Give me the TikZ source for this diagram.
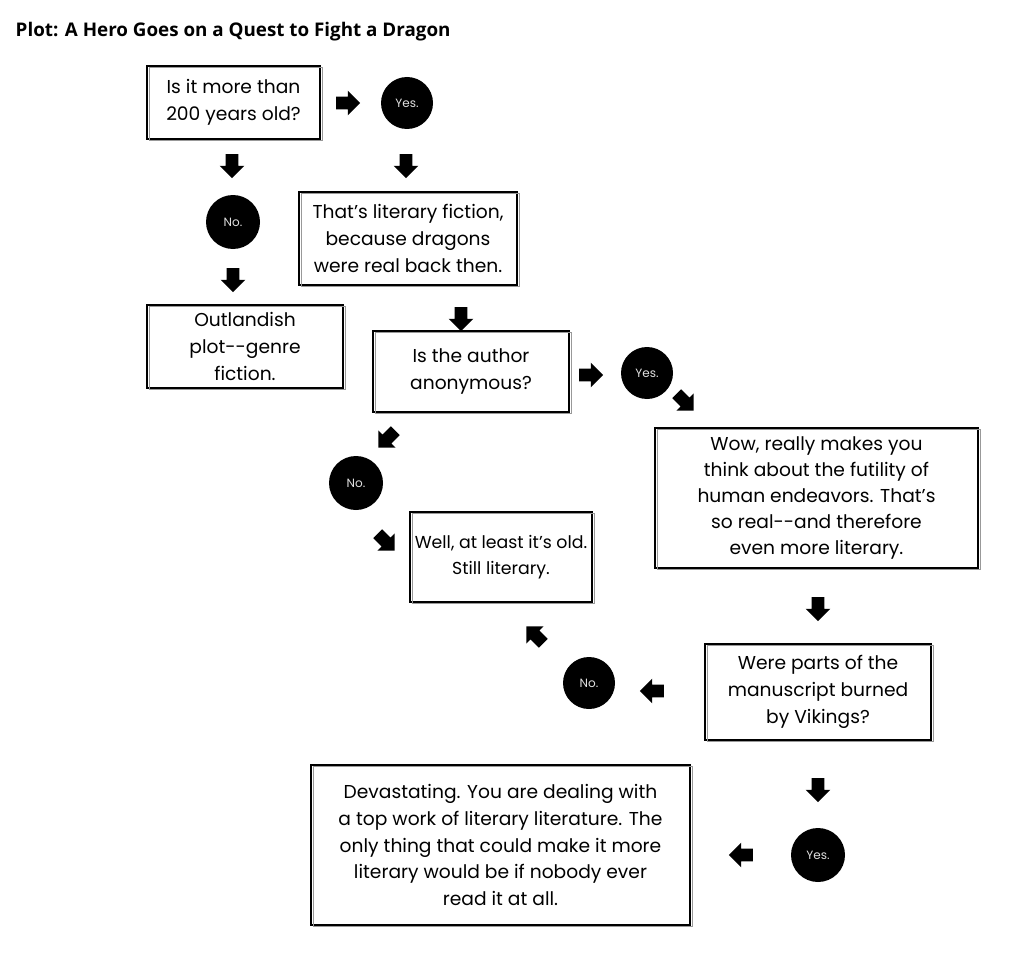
\documentclass[tikz,border=0pt]{standalone}
\usepackage{fontspec}
\setmainfont{Poppins}
\newfontfamily\titlefont{Open Sans}
\usetikzlibrary{shapes.arrows}
\begin{document}
\begin{tikzpicture}[x=0.75pt,y=-0.75pt,
  sbox/.style={draw=black, line width=1.3pt, align=center, inner sep=0pt,
    font=\fontsize{14}{20}\selectfont,
    postaction={draw=black!40, line width=0.5pt, transform canvas={xshift=1.4pt,yshift=-1.2pt}}},
  dot/.style={circle, fill=black, text=black!12, inner sep=0pt, font=\fontsize{9}{10}\selectfont},
  barrow/.style={single arrow, fill=black, draw=none, inner xsep=0pt, inner ysep=4.5pt,
    minimum height=18pt, single arrow head extend=4.5pt, single arrow head indent=0pt, rotate=#1},
]
\fill[white] (0,0) rectangle (1024,970);
\useasboundingbox (0,0) rectangle (1024,970);

\node[anchor=west, font=\titlefont\bfseries\fontsize{14.1}{17}\selectfont] (title) at (11,32)
  {Plot: A Hero Goes on a Quest to Fight a Dragon};

% boxes
\node[sbox, minimum width=173*0.75pt, minimum height=73*0.75pt] (q1) at (233.5,102.5)
  {Is it more than\\200 years old?};
\node[sbox, minimum width=218*0.75pt, minimum height=93*0.75pt] (lit) at (408,238.5)
  {That’s literary fiction,\\because dragons\\were real back then.};
\node[sbox, minimum width=196*0.75pt, minimum height=83*0.75pt] (genre) at (245,346.5)
  {Outlandish\\plot-{}-genre\\fiction.};
\node[sbox, minimum width=196*0.75pt, minimum height=81*0.75pt] (q2) at (471,371.5)
  {Is the author\\anonymous?};
\node[sbox, font=\fontsize{14}{19.5}\selectfont, minimum width=323*0.75pt, minimum height=140*0.75pt] (wow) at (816.5,498)
  {Wow, really makes you\\think about the futility of\\human endeavors. That’s\\so real-{}-and therefore\\even more literary.};
\node[sbox, font=\fontsize{13}{20}\selectfont, minimum width=182*0.75pt, minimum height=90*0.75pt] (old) at (501,557)
  {Well, at least it’s old.\\Still literary.};
\node[sbox, minimum width=226*0.75pt, minimum height=96*0.75pt] (q3) at (818,692)
  {Were parts of the\\manuscript burned\\by Vikings?};
\node[sbox, minimum width=379*0.75pt, minimum height=160*0.75pt] (dev) at (500.5,845)
  {Devastating. You are dealing with\\a top work of literary literature. The\\only thing that could make it more\\literary would be if nobody ever\\read it at all.};

% answer dots
\node[dot, minimum size=52*0.75pt] (y1) at (407,103) {Yes.};
\node[dot, minimum size=54*0.75pt] (n1) at (233,222) {No.};
\node[dot, minimum size=52*0.75pt] (y2) at (647,373) {Yes.};
\node[dot, minimum size=54*0.75pt] (n2) at (356,483) {No.};
\node[dot, minimum size=52*0.75pt] (n3) at (589,683) {No.};
\node[dot, minimum size=54*0.75pt] (y3) at (818,855) {Yes.};

% block arrows
\node[barrow=0]    (a1)  at (345,103) {};
\node[barrow=-90]  (a2)  at (232,163) {};
\node[barrow=-90]  (a3)  at (406,163) {};
\node[barrow=-90]  (a4)  at (233,277) {};
\node[barrow=-90]  (a5)  at (461,316) {};
\node[barrow=0]    (a6)  at (588,375) {};
\node[barrow=-45]  (a7)  at (683,400) {};
\node[barrow=-135] (a8)  at (389,437) {};
\node[barrow=-45]  (a9)  at (384,540) {};
\node[barrow=-90]  (a10) at (818,606) {};
\node[barrow=135]  (a11) at (537,637) {};
\node[barrow=180]  (a12) at (655,691) {};
\node[barrow=-90]  (a13) at (818,787) {};
\node[barrow=180]  (a14) at (744,855) {};
\end{tikzpicture}
\end{document}
